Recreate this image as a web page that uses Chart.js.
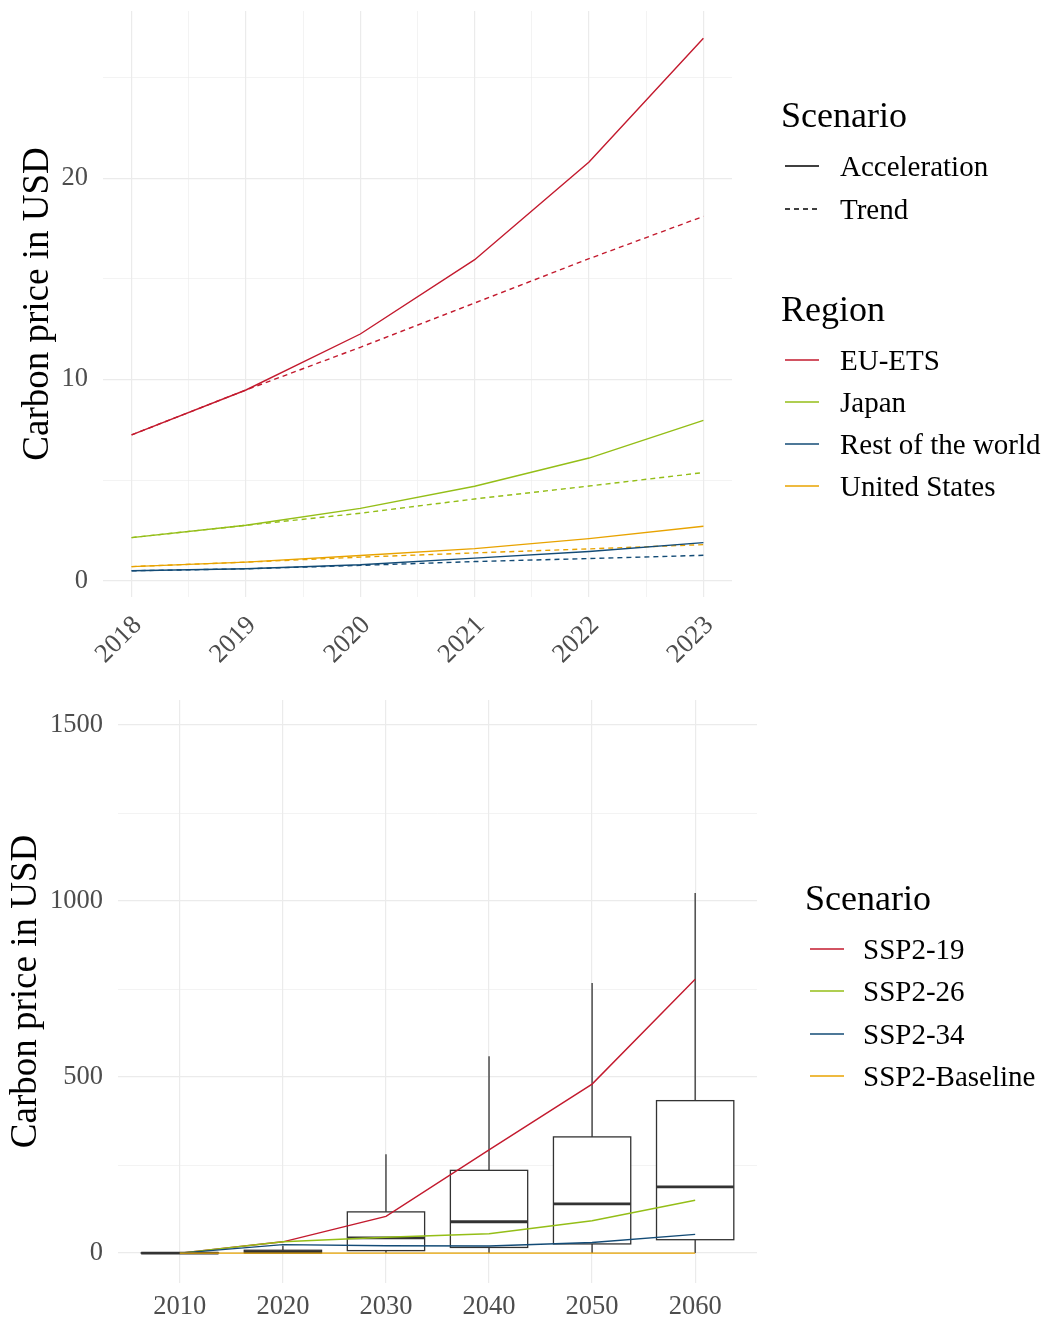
<!DOCTYPE html>
<html><head><meta charset="utf-8">
<script src="https://cdn.jsdelivr.net/npm/chart.js@4.4.1/dist/chart.umd.min.js"></script>
<style>
body{margin:0;background:#fff;width:1050px;height:1318px;position:relative;overflow:hidden;font-family:"Liberation Serif",serif;}
#w1{position:absolute;left:0;top:0;width:1050px;height:690px;}
#w2{position:absolute;left:0;top:690px;width:1050px;height:628px;}
.lg{position:absolute;white-space:nowrap;color:#000;line-height:1;transform:translateY(-50%);}
.lt{font-size:36px;}
.li{font-size:29px;}
svg.sw{position:absolute;}
</style></head><body>
<div id="w1"><canvas id="c1" width="1050" height="690"></canvas></div>
<div id="w2"><canvas id="c2" width="1050" height="628"></canvas></div>
<div id="legends"></div>
<script>
// ---------- DATA: top chart ----------
const years = [2018, 2019, 2020, 2021, 2022, 2023];
const regions = ['EU-ETS', 'Japan', 'Rest of the world', 'United States'];
const scenariosTop = ['Acceleration', 'Trend'];
const euAcc   = [7.25, 9.48, 12.26, 15.95, 20.8, 26.95];
const euTrend = [7.25, 9.48, 11.6, 13.8, 16.0, 18.1];
const jpAcc   = [2.15, 2.76, 3.6, 4.7, 6.1, 7.97];
const jpTrend = [2.15, 2.76, 3.36, 4.07, 4.71, 5.38];
const rowAcc  = [0.5, 0.6, 0.8, 1.13, 1.46, 1.9];
const rowTrend= [0.5, 0.6, 0.77, 0.96, 1.11, 1.27];
const usAcc   = [0.71, 0.93, 1.26, 1.6, 2.1, 2.71];
const usTrend = [0.71, 0.93, 1.18, 1.39, 1.59, 1.8];
const topXTicks = [2018, 2018.5, 2019, 2019.5, 2020, 2020.5, 2021, 2021.5, 2022, 2022.5, 2023];
const topYTicks = [0, 5, 10, 15, 20, 25];
const topYLabels = ['0', '', '10', '', '20', ''];

// ---------- DATA: bottom chart ----------
const decades = [2010, 2020, 2030, 2040, 2050, 2060];
const scenariosBottom = ['SSP2-19', 'SSP2-26', 'SSP2-34', 'SSP2-Baseline'];
const ssp19 = [0, 32, 104, 293, 480, 778];
const ssp26 = [0, 32, 45, 55, 92, 150];
const ssp34 = [0, 24, 21, 20, 30, 53];
const sspBase = [0, 0, 0, 0, 0, 0];
const boxLow    = [0, 0, 0, 0, 0, 0];
const boxQ1     = [0, 0.5, 7, 16, 26, 38];
const boxMedian = [0, 2.5, 43, 89, 140, 188];
const boxQ3     = [0.5, 8, 117, 235, 330, 433];
const boxHigh   = [1, 21, 281, 559, 767, 1023];
const botXTicks = [2010, 2020, 2030, 2040, 2050, 2060];
const botYTicks = [0, 250, 500, 750, 1000, 1250, 1500];
const botYLabels = ['0', '', '500', '', '1000', '', '1500'];

// ---------- styles ----------
const C_RED = '#C31A2E', C_GREEN = '#94BE17', C_BLUE = '#134B76', C_ORANGE = '#E8A300';
const regionColors = [C_RED, C_GREEN, C_BLUE, C_ORANGE];
const botColors = [C_RED, C_GREEN, C_BLUE, C_ORANGE];
const GRID = '#EBEBEB';
const TICKC = '#4D4D4D';
const FONT = '"Liberation Serif", serif';
const DASH = [5, 4];
const BOX_HALF = 3.75;
const TICK_SIZE = 26.5;
const TITLE_SIZE = 37;

const pts = (xs, ys) => xs.map((x, i) => ({x: x, y: ys[i]}));

// ---------- top chart ----------
const accSeries = [euAcc, jpAcc, rowAcc, usAcc];
const trendSeries = [euTrend, jpTrend, rowTrend, usTrend];
const topDatasets = [];
regions.forEach((r, i) => {
  topDatasets.push({label: r + ' Trend', data: pts(years, trendSeries[i]), borderColor: regionColors[i],
    borderWidth: 1.4, borderDash: DASH, pointRadius: 0, fill: false, tension: 0});
  topDatasets.push({label: r + ' Acceleration', data: pts(years, accSeries[i]), borderColor: regionColors[i],
    borderWidth: 1.4, pointRadius: 0, fill: false, tension: 0});
});

function gridW(major) { return major ? 1.2 : 0.6; }

new Chart(document.getElementById('c1'), {
  type: 'line',
  data: {datasets: topDatasets},
  options: {
    responsive: false, animation: false, devicePixelRatio: 1,
    layout: {padding: {top: 11, right: 318, left: 0, bottom: 0}},
    plugins: {legend: {display: false}, tooltip: {enabled: false}},
    scales: {
      x: {
        type: 'linear', min: 2017.75, max: 2023.25,
        afterBuildTicks: s => { s.ticks = topXTicks.map(v => ({value: v})); },
        afterFit: s => { s.height = 93; s.paddingLeft = 0; s.paddingRight = 0; },
        border: {display: false},
        grid: {drawTicks: false, color: GRID, lineWidth: c => gridW(c.tick && Number.isInteger(c.tick.value))},
        ticks: {autoSkip: false, minRotation: 45, maxRotation: 45, padding: 13, labelOffset: 6, color: TICKC,
          font: {family: FONT, size: TICK_SIZE},
          callback: v => Number.isInteger(v) ? String(v) : ''}
      },
      y: {
        type: 'linear', min: -0.8, max: 28.3,
        afterBuildTicks: s => { s.ticks = topYTicks.map(v => ({value: v})); },
        afterFit: s => { s.width = 103; s.paddingTop = 0; s.paddingBottom = 0; },
        border: {display: false},
        grid: {drawTicks: false, color: GRID, lineWidth: c => gridW(c.tick && c.tick.value % 10 === 0)},
        ticks: {padding: 15, color: TICKC, font: {family: FONT, size: TICK_SIZE},
          callback: (v) => topYLabels[topYTicks.indexOf(v)]},
        title: {display: true, text: 'Carbon price in USD', color: '#000', font: {family: FONT, size: TITLE_SIZE}, padding: {top: 16, bottom: 0}}
      }
    }
  }
});

// ---------- bottom chart ----------
const boxPlugin = {
  id: 'boxes',
  beforeDatasetsDraw(chart) {
    const {ctx, chartArea, scales: {x, y}} = chart;
    ctx.save();
    ctx.beginPath();
    ctx.rect(chartArea.left, chartArea.top, chartArea.right - chartArea.left, chartArea.bottom - chartArea.top);
    ctx.clip();
    ctx.strokeStyle = '#333333';
    decades.forEach((d, i) => {
      const xc = x.getPixelForValue(d);
      const xl = x.getPixelForValue(d - BOX_HALF);
      const xr = x.getPixelForValue(d + BOX_HALF);
      const yLo = y.getPixelForValue(boxLow[i]), yQ1 = y.getPixelForValue(boxQ1[i]);
      const yMed = y.getPixelForValue(boxMedian[i]), yQ3 = y.getPixelForValue(boxQ3[i]);
      const yHi = y.getPixelForValue(boxHigh[i]);
      ctx.lineWidth = 1.3;
      ctx.beginPath();
      ctx.moveTo(xc, yQ3); ctx.lineTo(xc, yHi);
      ctx.moveTo(xc, yQ1); ctx.lineTo(xc, yLo);
      ctx.stroke();
      ctx.fillStyle = '#fff';
      ctx.fillRect(xl, yQ3, xr - xl, yQ1 - yQ3);
      ctx.strokeRect(xl, yQ3, xr - xl, yQ1 - yQ3);
      ctx.lineWidth = 2.8;
      ctx.beginPath();
      ctx.moveTo(xl, yMed); ctx.lineTo(xr, yMed);
      ctx.stroke();
    });
    ctx.restore();
  }
};

const botSeries = [ssp19, ssp26, ssp34, sspBase];
const botDatasets = scenariosBottom.map((s, i) => ({
  label: s, data: pts(decades, botSeries[i]), borderColor: botColors[i], borderWidth: 1.4,
  pointRadius: 0, fill: false, tension: 0, order: 4 - i
}));

new Chart(document.getElementById('c2'), {
  type: 'line',
  data: {datasets: botDatasets},
  plugins: [boxPlugin],
  options: {
    responsive: false, animation: false, devicePixelRatio: 1,
    layout: {padding: {top: 10, right: 293, left: 0, bottom: 0}},
    plugins: {legend: {display: false}, tooltip: {enabled: false}},
    scales: {
      x: {
        type: 'linear', min: 2004, max: 2066,
        afterBuildTicks: s => { s.ticks = botXTicks.map(v => ({value: v})); },
        afterFit: s => { s.height = 35; s.paddingLeft = 0; s.paddingRight = 0; },
        border: {display: false},
        grid: {drawTicks: false, color: GRID, lineWidth: 1.2},
        ticks: {autoSkip: false, maxRotation: 0, minRotation: 0, padding: 8, color: TICKC,
          font: {family: FONT, size: TICK_SIZE}, callback: v => String(v)}
      },
      y: {
        type: 'linear', min: -85, max: 1571,
        afterBuildTicks: s => { s.ticks = botYTicks.map(v => ({value: v})); },
        afterFit: s => { s.width = 118; s.paddingTop = 0; s.paddingBottom = 0; },
        border: {display: false},
        grid: {drawTicks: false, color: GRID, lineWidth: c => gridW(c.tick && c.tick.value % 500 === 0)},
        ticks: {padding: 15, color: TICKC, font: {family: FONT, size: TICK_SIZE},
          callback: (v) => botYLabels[botYTicks.indexOf(v)]},
        title: {display: true, text: 'Carbon price in USD', color: '#000', font: {family: FONT, size: TITLE_SIZE}, padding: {top: 4, bottom: 0}}
      }
    }
  }
});

// ---------- legends (HTML) ----------
const L = document.getElementById('legends');
function title(text, x, cy) {
  const d = document.createElement('div'); d.className = 'lg lt'; d.textContent = text;
  d.style.left = x + 'px'; d.style.top = cy + 'px'; L.appendChild(d);
}
function item(text, color, dashed, sx, tx, cy) {
  const ns = 'http://www.w3.org/2000/svg';
  const s = document.createElementNS(ns, 'svg');
  s.setAttribute('class', 'sw'); s.setAttribute('width', 36); s.setAttribute('height', 6);
  s.style.left = sx + 'px'; s.style.top = (cy - 3) + 'px';
  const ln = document.createElementNS(ns, 'line');
  ln.setAttribute('x1', 0); ln.setAttribute('x2', 34); ln.setAttribute('y1', 3); ln.setAttribute('y2', 3);
  ln.setAttribute('stroke', color); ln.setAttribute('stroke-width', 1.4);
  if (dashed) ln.setAttribute('stroke-dasharray', '5 4');
  s.appendChild(ln); L.appendChild(s);
  const d = document.createElement('div'); d.className = 'lg li'; d.textContent = text;
  d.style.left = tx + 'px'; d.style.top = cy + 'px'; L.appendChild(d);
}
title('Scenario', 781, 115);
scenariosTop.forEach((s, i) => item(s, '#000', i === 1, 785, 840, 166 + i * 43));
title('Region', 781, 309);
regions.forEach((r, i) => item(r, regionColors[i], false, 785, 840, 360 + i * 42));
title('Scenario', 805, 898);
scenariosBottom.forEach((s, i) => item(s, botColors[i], false, 810, 863, 949 + i * 42.3));
</script>
</body></html>
